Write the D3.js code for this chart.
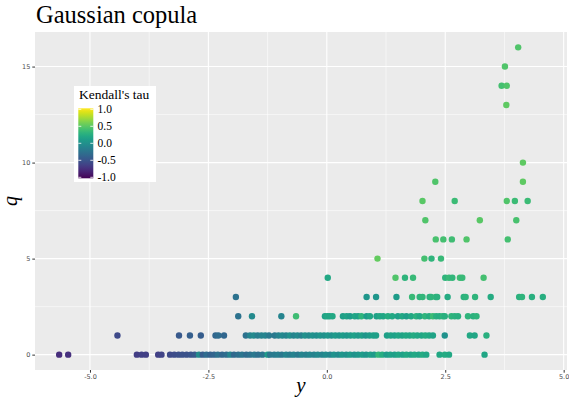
<!DOCTYPE html>
<html>
<head>
<meta charset="utf-8">
<script src="https://cdn.jsdelivr.net/npm/d3@7"></script>
<style>
  body { margin: 0; background: #fff; }
  svg { display: block; }
</style>
</head>
<body>
<div id="chart"></div>
<script>
const width = 569;
const height = 398;

// points per q level: [y, Kendall's tau]
const q0 = [
  [-5.65, -0.74], [-5.46, -0.72], [-4.01, -0.64], [-3.91, -0.62], [-3.82, -0.63],
  [-3.56, -0.62], [-3.49, -0.6], [-3.31, -0.55], [-3.22, -0.54], [-3.13, -0.52],
  [-3.05, -0.5], [-2.96, -0.5], [-2.87, -0.47], [-2.79, -0.45], [-2.7, -0.05],
  [-2.62, -0.42], [-2.54, -0.3], [-2.46, -0.38], [-2.38, -0.36], [-2.3, -0.26],
  [-2.21, -0.34], [-2.12, -0.3], [-2.04, -0.1], [-1.96, -0.33], [-1.87, -0.28],
  [-1.79, -0.22], [-1.7, -0.3], [-1.62, -0.25], [-1.53, -0.2], [-1.45, -0.27],
  [-1.36, -0.22], [-1.25, 0.1], [-1.2, -0.2], [-1.11, -0.18], [-1.03, -0.15],
  [-0.95, -0.2], [-0.86, -0.1], [-0.78, -0.16], [-0.7, -0.12], [-0.61, -0.18],
  [-0.53, -0.1], [-0.44, -0.14], [-0.36, -0.08], [-0.27, -0.12], [-0.19, -0.06],
  [-0.1, -0.1], [-0.02, -0.04], [0.07, -0.08], [0.15, 0.02], [0.24, -0.04],
  [0.32, 0.05], [0.41, 0.0], [0.49, 0.08], [0.58, 0.02], [0.66, 0.06],
  [0.75, 0.1], [0.83, 0.04], [0.92, 0.12], [1.0, 0.08], [1.09, 0.32],
  [1.17, 0.24], [1.26, 0.1], [1.34, 0.15], [1.43, 0.12], [1.51, 0.18],
  [1.6, 0.14], [1.68, 0.2], [1.77, 0.16], [1.85, 0.2], [1.94, 0.17],
  [2.02, 0.22], [2.1, 0.18], [2.38, 0.2], [2.49, 0.22], [2.58, 0.2], [3.33, 0.18]
];
const q1 = [
  [-4.42, -0.56], [-3.12, -0.45], [-2.89, -0.4], [-2.66, -0.42], [-2.35, -0.35],
  [-2.29, -0.3], [-2.17, -0.35], [-1.71, -0.26], [-1.62, -0.1], [-1.54, -0.05],
  [-1.46, -0.15], [-1.38, -0.12], [-1.3, -0.1], [-1.22, -0.18], [-1.1, -0.2],
  [-1.02, -0.12], [-0.94, -0.06], [-0.86, -0.1], [-0.78, 0.0], [-0.7, -0.1],
  [-0.62, -0.05], [-0.54, -0.12], [-0.46, 0.0], [-0.38, -0.05], [-0.3, 0.02],
  [-0.22, -0.02], [-0.14, 0.04], [-0.06, 0.0], [0.02, 0.06], [0.1, 0.02],
  [0.18, 0.08], [0.26, 0.04], [0.34, 0.1], [0.42, 0.06], [0.5, 0.1],
  [0.58, 0.14], [0.66, 0.08], [0.74, 0.12], [0.82, 0.04], [0.9, 0.1],
  [0.98, 0.14], [1.04, 0.12], [1.27, 0.12], [1.35, 0.16], [1.43, 0.14],
  [1.51, 0.18], [1.59, 0.16], [1.67, 0.2], [1.75, 0.18], [1.83, 0.22],
  [1.91, 0.2], [2.0, 0.18], [2.08, 0.22], [2.16, 0.2], [2.24, 0.16],
  [2.49, 0.02], [3.02, 0.2], [3.12, 0.18], [3.37, 0.26]
];
const q2 = [
  [-1.87, -0.25], [-1.58, -0.05], [-0.96, -0.1], [-0.65, 0.38], [-0.04, 0.15],
  [0.01, 0.2], [0.06, 0.18], [0.12, 0.2], [0.34, 0.12], [0.42, 0.16],
  [0.49, 0.1], [0.59, 0.18], [0.66, 0.14], [0.73, 0.3], [0.84, 0.1],
  [0.91, 0.18], [1.05, 0.14], [1.12, 0.2], [1.19, 0.18], [1.29, 0.24],
  [1.38, 0.2], [1.5, 0.14], [1.59, 0.2], [1.68, 0.12], [1.78, 0.2],
  [1.89, 0.28], [1.96, 0.2], [2.07, 0.3], [2.16, 0.24], [2.24, 0.36],
  [2.31, 0.26], [2.38, 0.24], [2.45, 0.3], [2.49, 0.26], [2.63, 0.3],
  [2.7, 0.28], [2.77, 0.26], [2.98, 0.3], [3.09, 0.28], [3.16, 0.3]
];
const q3 = [
  [-1.92, -0.25], [0.84, 0.05], [1.04, 0.05], [1.47, 0.1], [1.8, 0.35],
  [1.96, 0.3], [2.02, 0.32], [2.17, 0.28], [2.2, 0.3], [2.3, 0.32],
  [2.33, 0.28], [2.55, 0.22], [2.89, 0.28], [2.93, 0.3], [3.13, 0.3],
  [3.46, 0.22], [4.06, 0.28], [4.12, 0.3], [4.33, 0.26], [4.56, 0.25]
];
const q4 = [
  [0.02, 0.2], [1.45, 0.45], [1.65, 0.3], [1.82, 0.35], [2.5, 0.3],
  [2.58, 0.35], [2.65, 0.32], [2.81, 0.38], [2.86, 0.35], [3.31, 0.4]
];
const q5 = [[1.07, 0.52], [2.06, 0.4], [2.21, 0.3], [2.41, 0.35]];
const q6 = [[2.3, 0.42], [2.46, 0.4], [2.64, 0.38], [2.95, 0.45], [3.82, 0.4]];
const q7 = [[2.08, 0.45], [3.23, 0.48], [4.0, 0.42]];
const q8 = [[2.02, 0.48], [2.7, 0.36], [3.8, 0.45], [3.97, 0.36], [4.24, 0.36]];
const q9 = [[2.29, 0.45], [4.14, 0.5]];
const q10 = [[4.14, 0.5]];
const q13 = [[3.79, 0.5]];
const q14 = [[3.69, 0.4], [3.8, 0.45]];
const q15 = [[3.76, 0.45]];
const q16 = [[4.04, 0.45]];

const qLevels = [0, 1, 2, 3, 4, 5, 6, 7, 8, 9, 10, 13, 14, 15, 16];
const qRows = [q0, q1, q2, q3, q4, q5, q6, q7, q8, q9, q10, q13, q14, q15, q16];

const xTicks = [-5, -2.5, 0, 2.5, 5];
const yTicks = [0, 5, 10, 15];
const legendBreaks = [1, 0.5, 0, -0.5, -1];

const points = [];
qRows.forEach((row, i) => {
  row.forEach(([y, tau]) => points.push({ y, q: qLevels[i], tau }));
});

// ggplot-like 5% expansion
const expand = (ext) => {
  const pad = (ext[1] - ext[0]) * 0.05;
  return [ext[0] - pad, ext[1] + pad];
};

// labels with a plain hyphen, like R prints them
const fmt1 = (d) => d3.format('.1f')(d).replace('\u2212', '-');

const panel = { left: 35, right: 567, top: 32, bottom: 370 };

const x = d3.scaleLinear()
  .domain(expand(d3.extent(points, (d) => d.y)))
  .range([panel.left, panel.right]);
const y = d3.scaleLinear()
  .domain(expand(d3.extent(points, (d) => d.q)))
  .range([panel.bottom, panel.top]);
const color = d3.scaleSequential(d3.interpolateViridis).domain([-1, 1]);

const svg = d3.select('#chart').append('svg')
  .attr('width', width)
  .attr('height', height)
  .attr('viewBox', `0 0 ${width} ${height}`);

// panel background
svg.append('rect')
  .attr('x', panel.left)
  .attr('y', panel.top)
  .attr('width', panel.right - panel.left)
  .attr('height', panel.bottom - panel.top)
  .attr('fill', '#EBEBEB');

// minor grid (halfway between majors)
const xMinor = xTicks.slice(0, -1).map((t) => t + 1.25).concat([-6.25])
  .filter((t) => t > x.domain()[0] && t < x.domain()[1]);
const yMinor = yTicks.map((t) => t + 2.5)
  .filter((t) => t > y.domain()[0] && t < y.domain()[1]);

const grid = svg.append('g').attr('stroke', '#fff');
grid.selectAll('.xminor').data(xMinor).enter().append('line')
  .attr('x1', (d) => x(d)).attr('x2', (d) => x(d))
  .attr('y1', panel.top).attr('y2', panel.bottom)
  .attr('stroke-width', 0.55);
grid.selectAll('.yminor').data(yMinor).enter().append('line')
  .attr('x1', panel.left).attr('x2', panel.right)
  .attr('y1', (d) => y(d)).attr('y2', (d) => y(d))
  .attr('stroke-width', 0.55);
grid.selectAll('.xmajor').data(xTicks).enter().append('line')
  .attr('x1', (d) => x(d)).attr('x2', (d) => x(d))
  .attr('y1', panel.top).attr('y2', panel.bottom)
  .attr('stroke-width', 1.1);
grid.selectAll('.ymajor').data(yTicks).enter().append('line')
  .attr('x1', panel.left).attr('x2', panel.right)
  .attr('y1', (d) => y(d)).attr('y2', (d) => y(d))
  .attr('stroke-width', 1.1);

// points
svg.append('g')
  .selectAll('circle')
  .data(points)
  .enter()
  .append('circle')
  .attr('cx', (d) => x(d.y))
  .attr('cy', (d) => y(d.q))
  .attr('r', 3.2)
  .attr('fill', (d) => color(d.tau));

// axes
const xAxis = svg.append('g')
  .attr('transform', `translate(0,${panel.bottom})`)
  .call(d3.axisBottom(x).tickValues(xTicks).tickFormat(fmt1).tickSize(2.7).tickPadding(2));
const yAxis = svg.append('g')
  .attr('transform', `translate(${panel.left},0)`)
  .call(d3.axisLeft(y).tickValues(yTicks).tickFormat(d3.format('d')).tickSize(2.7).tickPadding(2));

[xAxis, yAxis].forEach((ax) => {
  ax.select('.domain').remove();
  ax.selectAll('line').attr('stroke', '#333333').attr('stroke-width', 1);
  ax.selectAll('text')
    .attr('fill', '#4D4D4D')
    .style('font-family', 'DejaVu Sans, sans-serif')
    .style('font-size', '6.5px');
});

// axis titles
svg.append('text')
  .attr('x', (panel.left + panel.right) / 2)
  .attr('y', 392)
  .attr('text-anchor', 'middle')
  .style('font-family', 'Liberation Serif, serif')
  .style('font-style', 'italic')
  .style('font-size', '21px')
  .text('y');

svg.append('text')
  .attr('transform', `translate(17,${(panel.top + panel.bottom) / 2}) rotate(-90)`)
  .attr('text-anchor', 'middle')
  .style('font-family', 'Liberation Serif, serif')
  .style('font-style', 'italic')
  .style('font-size', '20px')
  .text('q');

// title
svg.append('text')
  .attr('x', 36)
  .attr('y', 23)
  .style('font-family', 'Liberation Serif, serif')
  .style('font-size', '24.5px')
  .attr('fill', '#000')
  .text('Gaussian copula');

// legend
const legend = svg.append('g');
legend.append('rect')
  .attr('x', 74).attr('y', 86)
  .attr('width', 82).attr('height', 96)
  .attr('fill', '#fff');

legend.append('text')
  .attr('x', 79).attr('y', 99)
  .style('font-family', 'Liberation Serif, serif')
  .style('font-size', '13.5px')
  .text("Kendall's tau");

const bar = { x: 78.3, y: 108.3, w: 15, h: 70 };
const legendY = d3.scaleLinear().domain([1, -1]).range([bar.y + 1, bar.y + bar.h - 1]);

const grad = svg.append('defs').append('linearGradient')
  .attr('id', 'viridis')
  .attr('x1', 0).attr('y1', 1).attr('x2', 0).attr('y2', 0);
grad.selectAll('stop')
  .data(d3.range(0, 1.0001, 0.05))
  .enter()
  .append('stop')
  .attr('offset', (d) => d)
  .attr('stop-color', (d) => color(-1 + 2 * d));

legend.append('rect')
  .attr('x', bar.x).attr('y', bar.y)
  .attr('width', bar.w).attr('height', bar.h)
  .attr('fill', 'url(#viridis)');

legend.selectAll('.tickl').data(legendBreaks).enter().append('line')
  .attr('x1', bar.x).attr('x2', bar.x + 3)
  .attr('y1', (d) => legendY(d)).attr('y2', (d) => legendY(d))
  .attr('stroke', '#fff').attr('stroke-opacity', 0.8).attr('stroke-width', 1);
legend.selectAll('.tickr').data(legendBreaks).enter().append('line')
  .attr('x1', bar.x + bar.w - 3).attr('x2', bar.x + bar.w)
  .attr('y1', (d) => legendY(d)).attr('y2', (d) => legendY(d))
  .attr('stroke', '#fff').attr('stroke-opacity', 0.8).attr('stroke-width', 1);

legend.selectAll('.lab').data(legendBreaks).enter().append('text')
  .attr('x', 97.5)
  .attr('y', (d) => legendY(d))
  .attr('dy', '0.35em')
  .style('font-family', 'Liberation Serif, serif')
  .style('font-size', '11.5px')
  .text(fmt1);
</script>
</body>
</html>
